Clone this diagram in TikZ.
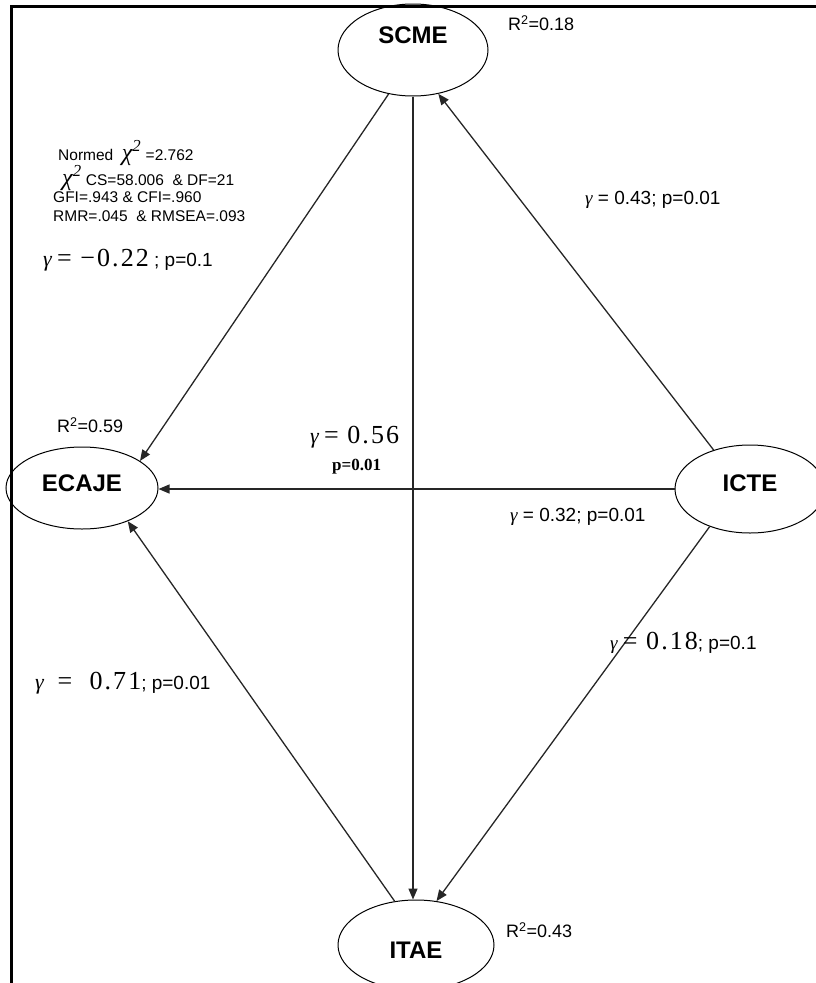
\documentclass[tikz,border=0pt]{standalone}
\usepackage{fontspec}
\setmainfont{Liberation Sans}
\newfontfamily\serifnum{Liberation Serif}[LetterSpace=8]
\newfontfamily\serifgam{Liberation Serif}
\usetikzlibrary{shapes.geometric,arrows.meta}
\newcommand\gsym{{\serifgam\itshape γ}}
\newcommand\bgsym{{\serifgam\itshape\fontsize{22}{22}\selectfont γ}}
\newcommand\chisym{{\serifgam\itshape\fontsize{24}{20}\selectfont χ\textsuperscript{2}}}
\begin{document}
\begin{tikzpicture}[x=1pt,y=-1pt,
  latent/.style={draw, ellipse, line width=1pt, inner sep=0pt,
    font=\fontsize{24}{26}\selectfont\bfseries},
  sem/.style={draw=black!85, line width=1.3pt, -{Triangle[length=11pt,width=9pt]}},
  lbl/.style={anchor=west, inner sep=0pt, font=\fontsize{19}{21}\selectfont},
  rlbl/.style={anchor=west, inner sep=0pt, font=\fontsize{18}{20}\selectfont},
  fitlbl/.style={anchor=west, inner sep=0pt, font=\fontsize{15.5}{17}\selectfont}
]
\useasboundingbox (0,0) rectangle (816,983);
\clip (0,0) rectangle (816,983);
% frame
\draw[line width=3pt] (11,990) -- (11,6) -- (820,6);
% latent variables
\node[latent, minimum width=150pt, minimum height=92pt, text depth=30pt] (scme) at (413,50) {SCME};
\node[latent, minimum width=152pt, minimum height=82pt, text depth=9pt] (ecaje) at (82,488) {ECAJE};
\node[latent, minimum width=150pt, minimum height=88pt, text depth=12pt] (icte) at (750,489) {ICTE};
\node[latent, minimum width=156pt, minimum height=90pt, text height=27pt] (itae) at (416,945) {ITAE};
% paths
\draw[sem] (scme.241) -- (ecaje.25);
\draw[sem] (scme.south) -- (scme.south |- itae.north);
\draw[sem] (icte.133) -- (scme.300);
\draw[sem] (icte.west) -- (ecaje.east |- icte.west);
\draw[sem] (icte.223) -- (itae.65);
\draw[sem] (itae.116) -- (ecaje.324);
% R squared
\node[rlbl] (r1) at (508,23) {R\textsuperscript{2}=0.18};
\node[rlbl] (r2) at (57,425) {R\textsuperscript{2}=0.59};
\node[rlbl] (r3) at (506,930) {R\textsuperscript{2}=0.43};
% fit indices
\node[fitlbl] (f1) at (58,153) {Normed \ \chisym{} =2.762};
\node[fitlbl] (f2) at (62,178) {\chisym{} CS=58.006 \ \& DF=21};
\node[fitlbl] (f3) at (53,197) {GFI=.943 \& CFI=.960};
\node[fitlbl] (f4) at (53,216) {RMR=.045 \ \& RMSEA=.093};
% path coefficients
\node[lbl] (g1) at (43,260) {\bgsym{} {\serifnum\fontsize{26}{28}\selectfont = −0.22} ; p=0.1};
\node[lbl] (g2) at (585,200) {\gsym{} = 0.43; p=0.01};
\node[lbl] (g3) at (310,437) {\bgsym{} {\serifnum\fontsize{26}{28}\selectfont = 0.56}};
\node[lbl, font=\serifgam\bfseries\fontsize{17}{19}\selectfont] (g3p) at (332,467) {p=0.01};
\node[lbl] (g4) at (510,517) {\gsym{} = 0.32; p=0.01};
\node[lbl] (g5) at (610,643) {\gsym{} {\serifnum\fontsize{26}{28}\selectfont = 0.18}; p=0.1};
\node[lbl] (g6) at (35,683) {\bgsym{} {\serifnum\fontsize{26}{28}\selectfont \ = \ 0.71}; p=0.01};
\end{tikzpicture}
\end{document}
